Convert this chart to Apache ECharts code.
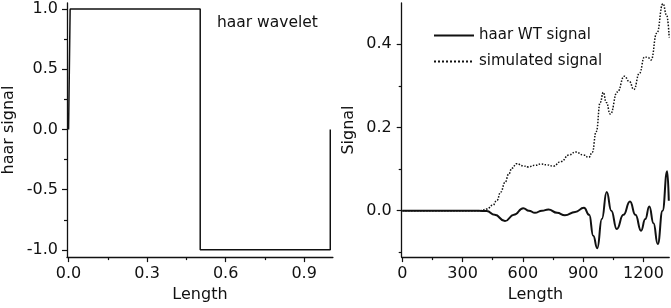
<!DOCTYPE html>
<html>
<head>
<meta charset="utf-8">
<script src="https://cdn.jsdelivr.net/npm/echarts@6/dist/echarts.min.js"></script>
<style>
html, body { margin: 0; padding: 0; background: #fff; }
#chart { width: 671px; height: 308px; }
</style>
</head>
<body>
<div id="chart"></div>
<script>
// left panel: haar wavelet
var haarX = [0, 0.006, 0.503, 0.503, 1.0, 1.0];
var haarY = [0, 1, 1, -1, -1, 0];
var leftXTicks = [0, 0.3, 0.6, 0.9];
var leftXMinor = [0.15, 0.45, 0.75];
var leftYTicks = [-1, -0.5, 0, 0.5, 1];
var leftYMinor = [-0.75, -0.25, 0.25, 0.75];

// right panel: haar WT signal / simulated signal
var wtX = [0, 380, 420, 460, 511, 555, 602, 630, 660, 695, 727, 770, 809, 860, 904, 930, 950, 970, 993, 1017, 1040, 1067, 1100, 1133, 1160, 1188, 1209, 1229, 1250, 1271, 1295, 1318, 1326];
var wtY = [0, 0, -0.001, -0.01, -0.025, -0.01, 0.006, 0.0, -0.005, 0.0, 0.003, -0.005, -0.011, -0.003, 0.007, -0.01, -0.06, -0.09, -0.02, 0.045, 0.0, -0.044, -0.01, 0.022, -0.01, -0.048, -0.02, 0.010, -0.03, -0.080, 0.0, 0.095, 0.024];
var simX = [0, 390, 420, 450, 470, 490, 511, 530, 545, 569, 600, 627, 660, 690, 720, 751, 790, 830, 862, 900, 928, 945, 965, 985, 1000, 1015, 1035, 1070, 1105, 1130, 1152, 1180, 1205, 1222, 1238, 1266, 1297, 1315, 1328];
var simY = [0, 0, 0.004, 0.013, 0.024, 0.045, 0.068, 0.088, 0.102, 0.113, 0.108, 0.105, 0.109, 0.112, 0.110, 0.107, 0.118, 0.134, 0.141, 0.134, 0.128, 0.14, 0.19, 0.26, 0.284, 0.26, 0.232, 0.285, 0.323, 0.31, 0.291, 0.33, 0.369, 0.368, 0.362, 0.426, 0.497, 0.47, 0.416];
var rightXTicks = [0, 300, 600, 900, 1200];
var rightXMinor = [150, 450, 750, 1050];
var rightYTicks = [0, 0.2, 0.4];
var rightYMinor = [-0.1, 0.1, 0.3];

var FONT = 'DejaVu Sans';
var INK = '#111';

function zip(xs, ys) {
    return xs.map(function (x, i) { return [x, ys[i]]; });
}

function axis(gridIndex, pos, min, max, ticks, len, opts) {
    var a = {
        type: 'value',
        gridIndex: gridIndex,
        position: pos,
        min: min,
        max: max,
        splitLine: { show: false },
        axisLine: { show: true, onZero: false, lineStyle: { color: INK, width: 1.3 } },
        axisTick: { show: true, inside: false, length: len, customValues: ticks, lineStyle: { color: INK, width: 1.2 } },
        axisLabel: { show: false }
    };
    if (opts) {
        for (var k in opts) a[k] = opts[k];
    }
    return a;
}

function labels(ticks, fmt, margin) {
    return {
        show: true, customValues: ticks, margin: margin,
        fontFamily: FONT, fontSize: 16, color: INK, formatter: fmt
    };
}

function oneDec(v) { return Number(v).toFixed(1); }
function intFmt(v) { return String(Math.round(v)); }

var nameStyle = { fontFamily: FONT, fontSize: 16, color: INK };

var dom = document.getElementById('chart');
var myChart = echarts.init(dom);

var option = {
    animation: false,
    backgroundColor: '#fff',
    title: {
        text: 'haar wavelet',
        left: 217,
        top: 15,
        padding: 0,
        textStyle: { fontFamily: FONT, fontSize: 15.5, fontWeight: 'normal', color: INK }
    },
    legend: {
        orient: 'vertical',
        left: 433,
        top: 28,
        itemWidth: 40,
        itemHeight: 14,
        itemGap: 11,
        padding: 0,
        itemStyle: { opacity: 0 },
        textStyle: { fontFamily: FONT, fontSize: 15, color: INK },
        data: ['haar WT signal', 'simulated signal']
    },
    grid: [
        { left: 66.7, top: 3, width: 266.2, height: 255.3 },
        { left: 401.7, top: 3, width: 267.5, height: 255.3 }
    ],
    xAxis: [
        axis(0, 'bottom', -0.006, 1.01, leftXTicks, 5, {
            axisLabel: labels(leftXTicks, oneDec, 9),
            name: 'Length', nameLocation: 'middle', nameGap: 29, nameTextStyle: nameStyle
        }),
        axis(0, 'bottom', -0.006, 1.01, leftXMinor, 3, { axisLine: { show: false, onZero: false } }),
        axis(1, 'bottom', -3, 1328, rightXTicks, 5, {
            axisLabel: labels(rightXTicks, intFmt, 9),
            name: 'Length', nameLocation: 'middle', nameGap: 29, nameTextStyle: nameStyle
        }),
        axis(1, 'bottom', -3, 1328, rightXMinor, 3, { axisLine: { show: false, onZero: false } })
    ],
    yAxis: [
        axis(0, 'left', -1.06, 1.0496, leftYTicks, 5, {
            axisLabel: labels(leftYTicks, oneDec, 9),
            name: 'haar signal', nameLocation: 'middle', nameGap: 50, nameTextStyle: nameStyle
        }),
        axis(0, 'left', -1.06, 1.0496, leftYMinor, 3, { axisLine: { show: false, onZero: false } }),
        axis(1, 'left', -0.1114, 0.4987, rightYTicks, 5, {
            axisLabel: labels(rightYTicks, oneDec, 10),
            name: 'Signal', nameLocation: 'middle', nameGap: 45, nameTextStyle: nameStyle
        }),
        axis(1, 'left', -0.1114, 0.4987, rightYMinor, 3, { axisLine: { show: false, onZero: false } })
    ],
    series: [
        {
            name: 'haar wavelet',
            type: 'line',
            xAxisIndex: 0,
            yAxisIndex: 0,
            symbol: 'none',
            lineStyle: { color: INK, width: 1.5 },
            data: zip(haarX, haarY)
        },
        {
            name: 'haar WT signal',
            type: 'line',
            xAxisIndex: 2,
            yAxisIndex: 2,
            symbol: 'none',
            smooth: 0.5,
            smoothMonotone: 'x',
            itemStyle: { color: INK },
            lineStyle: { color: INK, width: 2 },
            data: zip(wtX, wtY)
        },
        {
            name: 'simulated signal',
            type: 'line',
            xAxisIndex: 2,
            yAxisIndex: 2,
            symbol: 'none',
            smooth: 0.5,
            smoothMonotone: 'x',
            itemStyle: { color: INK },
            lineStyle: { color: INK, width: 1.5, type: 'dotted' },
            data: zip(simX, simY)
        }
    ]
};

if (option && typeof option === 'object') {
    myChart.setOption(option);
}
</script>
</body>
</html>
